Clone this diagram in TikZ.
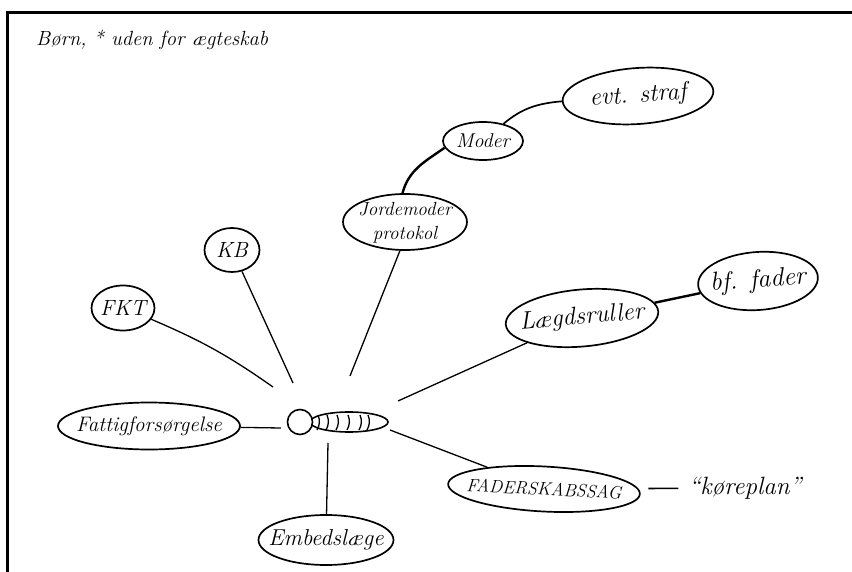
\documentclass[tikz,border=0pt]{standalone}
\usetikzlibrary{shapes.geometric}
\newcommand{\bubtext}[1]{\makebox[0pt]{#1}}
\begin{document}
\begin{tikzpicture}[x=1pt,y=1pt,
  bubble/.style={draw, ellipse, inner sep=0pt, line width=1.7pt, font=\itshape\fontsize{21}{23}\selectfont, align=center},
  spoke/.style={line width=1.3pt},
  thick link/.style={line width=2.4pt},
  label text/.style={font=\itshape\fontsize{24}{26}\selectfont}]
\useasboundingbox (0,0) rectangle (852,-572);
% frame
\draw[line width=3pt] (852,-13) -- (7,-13) -- (7,-572);
% title
\node[font=\itshape\fontsize{20.5}{22}\selectfont, anchor=west, inner sep=0pt] (title) at (36,-40) {Børn, * uden for ægteskab};
% nodes
\node[bubble, minimum width=151, minimum height=56, rotate=4, font=\itshape\fontsize{25}{27}\selectfont] (straf) at (638,-96) {\bubtext{evt. straf}};
\node[bubble, minimum width=80, minimum height=38, font=\itshape\fontsize{20}{22}\selectfont] (moder) at (483,-141) {\bubtext{Moder}};
\node[bubble, minimum width=124, minimum height=56, font=\itshape\fontsize{19}{24}\selectfont] (jord) at (405,-222)
  {\bubtext{\raisebox{-5pt}[0pt][0pt]{\begin{tabular}{@{}c@{}}Jordemoder\\protokol\end{tabular}}}};
\node[bubble, minimum width=55, minimum height=44, font=\itshape\fontsize{22}{24}\selectfont] (kb) at (232,-250) {\bubtext{KB}};
\node[bubble, minimum width=63, minimum height=45, font=\itshape\fontsize{22}{24}\selectfont] (fkt) at (123,-308) {\bubtext{FKT}};
\node[bubble, minimum width=182, minimum height=47, font=\itshape\fontsize{21}{23}\selectfont] (fatt) at (149,-426) {\bubtext{Fattigforsørgelse}};
\node[bubble, minimum width=135, minimum height=50, font=\itshape\fontsize{23}{25}\selectfont] (emb) at (326,-540) {\bubtext{Embedslæge}};
\node[bubble, minimum width=153, minimum height=57, rotate=5, font=\itshape\fontsize{25}{27}\selectfont] (laeg) at (582,-318) {\bubtext{Lægdsruller}};
\node[bubble, minimum width=120, minimum height=58, rotate=4, font=\itshape\fontsize{26}{28}\selectfont] (bff) at (758,-281) {\bubtext{bf. fader}};
\node[bubble, minimum width=192, minimum height=45, rotate=-3, font=\itshape\fontsize{18}{20}\selectfont] (fader) at (544,-489) {\bubtext{FADERSKABSSAG}};
\node[label text, inner sep=0pt, font=\itshape\fontsize{25}{27}\selectfont] (kore) at (745,-488) {“køreplan”};
% baby
\node[draw, ellipse, line width=1.6pt, minimum width=78, minimum height=20, inner sep=0pt] (baby) at (349,-422) {};
\node[draw, circle, line width=1.6pt, minimum size=25, inner sep=0pt, fill=white] (head) at (300,-422) {};
\foreach \x in {318,327,337,348,360,368}
  \draw[line width=1.3pt] (\x,-415) to[bend left=25] (\x-1,-430);
% free ends near the baby
\coordinate (e1) at (273,-387);
\coordinate (e2) at (293,-383);
\coordinate (e3) at (350,-376);
\coordinate (e4) at (398,-401);
\coordinate (e5) at (281,-428);
\coordinate (e6) at (328,-443);
\coordinate (e7) at (390,-430);
% connectors
\draw[spoke] (fkt) to[bend left=6] (e1);
\draw[spoke] (kb.-65) -- (e2);
\draw[spoke] (jord.-100) -- (e3);
\draw[spoke] (laeg) -- (e4);
\draw[spoke] (fatt) -- (e5);
\draw[spoke] (emb) -- (e6);
\draw[spoke] (fader) -- (e7);
\draw[thick link] (moder.190) to[out=215,in=75] (jord.95);
\draw[spoke, line width=1.7pt] (moder.40) to[out=40,in=185] (straf.west);
\draw[thick link] (laeg) -- (bff);
\draw[line width=1.6pt, shorten <=10pt, shorten >=10pt] (fader) -- (kore);
\end{tikzpicture}
\end{document}
